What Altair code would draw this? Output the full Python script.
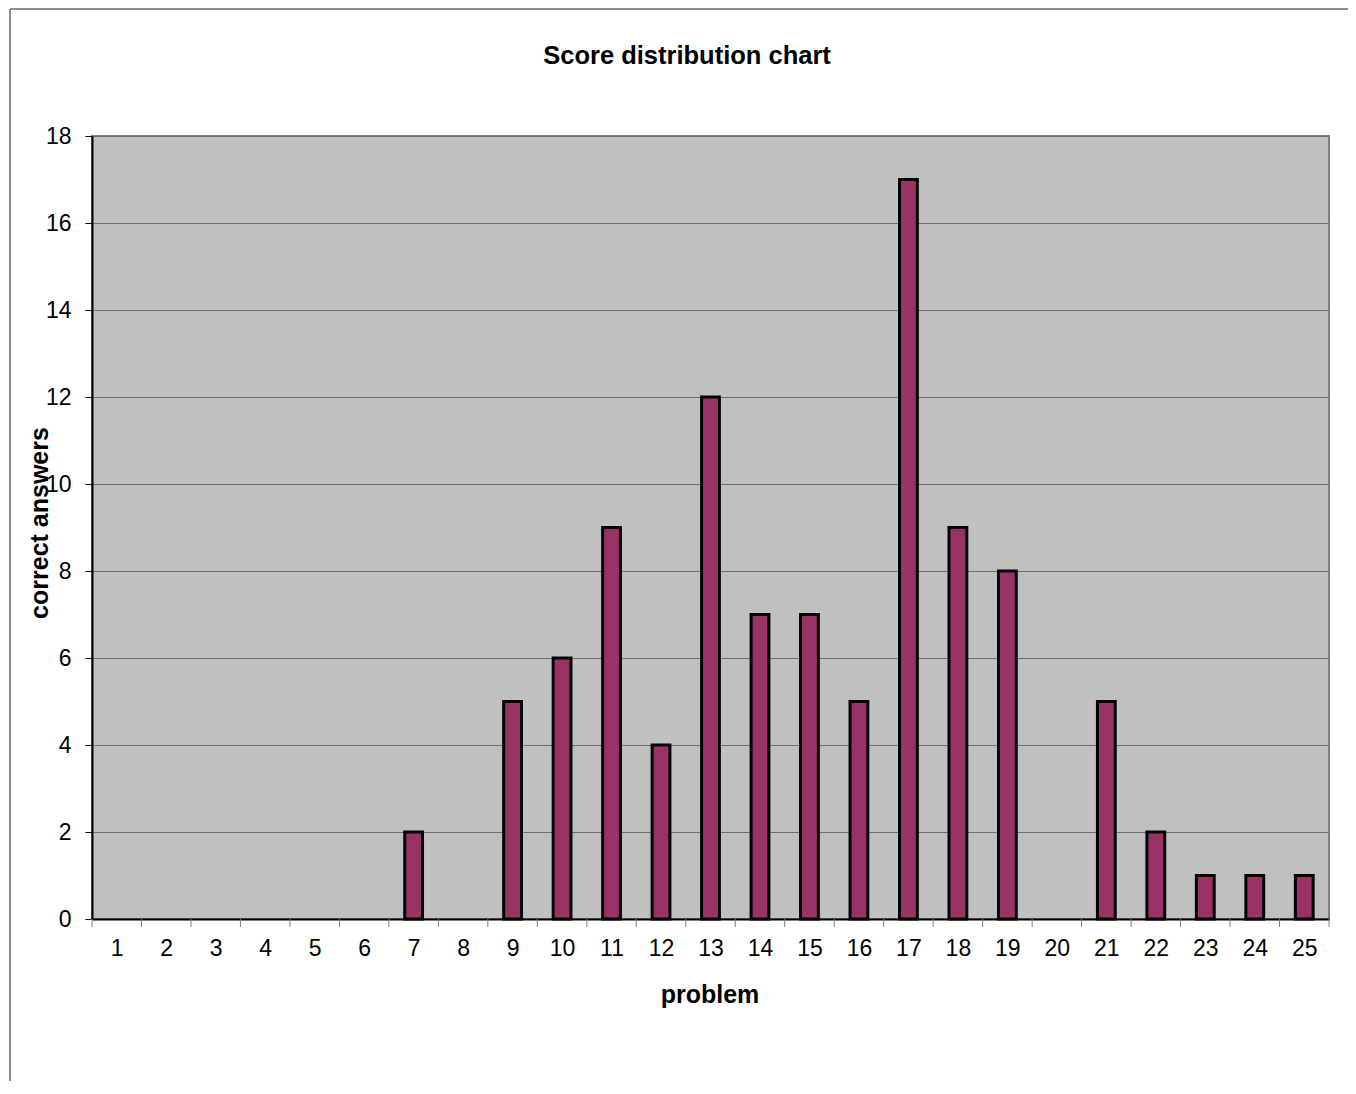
import altair as alt
import pandas as pd

# ---- data ----
problems = [1, 2, 3, 4, 5, 6, 7, 8, 9, 10, 11, 12, 13, 14, 15, 16, 17, 18, 19, 20, 21, 22, 23, 24, 25]
correct = [0, 0, 0, 0, 0, 0, 2, 0, 5, 6, 9, 4, 12, 7, 7, 5, 17, 9, 8, 0, 5, 2, 1, 1, 1]
y_ticks = [0, 2, 4, 6, 8, 10, 12, 14, 16, 18]
tick_edges = [0.5, 1.5, 2.5, 3.5, 4.5, 5.5, 6.5, 7.5, 8.5, 9.5, 10.5, 11.5, 12.5,
              13.5, 14.5, 15.5, 16.5, 17.5, 18.5, 19.5, 20.5, 21.5, 22.5, 23.5, 24.5, 25.5]
title_text = "Score distribution chart"
x_title = "problem"
y_title = "correct answers"

W, H = 1237, 783
FONT = "Liberation Sans"

df = pd.DataFrame({"problem": problems, "correct": correct})

xscale = alt.Scale(domain=[0.5, 25.5], nice=False, zero=False)
yscale = alt.Scale(domain=[0, 18], nice=False)

x_axis = alt.Axis(values=problems, format="d", ticks=False, grid=False,
                  domainColor="black", domainWidth=2, labelFontSize=23,
                  labelFont=FONT, labelColor="black", labelPadding=18,
                  labelFlush=False, labelOverlap=False, title=None)

bars = alt.Chart(df).transform_filter("datum.correct > 0").transform_calculate(
    x0="datum.problem - 0.18", x1="datum.problem + 0.18"
).mark_bar(color="#993366", stroke="black", strokeWidth=3).encode(
    x=alt.X("x0:Q", scale=xscale, axis=x_axis),
    x2="x1:Q",
    y=alt.Y("correct:Q", scale=yscale,
            axis=alt.Axis(values=y_ticks, grid=True, gridColor="#6e6e6e", gridWidth=1,
                          domainColor="black", domainWidth=2, tickColor="black",
                          tickSize=7, tickWidth=1, labelFontSize=23, labelFont=FONT,
                          labelColor="black", labelPadding=14, labelFlush=False,
                          title=None)),
    y2=alt.Y2(datum=0),
)

xticks = alt.Chart(pd.DataFrame({"edge": tick_edges})).mark_rule(
    color="#808080", strokeWidth=1
).encode(
    x=alt.X("edge:Q", scale=xscale, axis=x_axis),
    y=alt.value(H),
    y2=alt.value(H + 8),
)


def text_layer(s, x, y, size, angle=0):
    return alt.Chart(pd.DataFrame({"t": [s]})).mark_text(
        font=FONT, fontSize=size, fontWeight="bold", color="black",
        align="center", baseline="alphabetic", angle=angle
    ).encode(x=alt.value(x), y=alt.value(y), text="t:N")


title_layer = text_layer(title_text, 595, -72, 25.5)
xtitle_layer = text_layer(x_title, 618, 867, 25)
ytitle_layer = text_layer(y_title, -44, 387, 25, angle=270)

one = pd.DataFrame({"a": [0]})
border_left = alt.Chart(one).mark_rule(color="#8c8c8c", strokeWidth=2).encode(
    x=alt.value(-82), y=alt.value(-127), y2=alt.value(H + 170)
)
border_top = alt.Chart(one).mark_rule(color="#8c8c8c", strokeWidth=2).encode(
    x=alt.value(-82), x2=alt.value(W + 19), y=alt.value(-127)
)

chart = alt.layer(
    border_left, border_top, bars, xticks, title_layer, xtitle_layer, ytitle_layer
).properties(
    width=W, height=H,
    padding={"left": 84, "top": 128, "right": 19, "bottom": 162},
    autosize=alt.AutoSizeParams(type="none"),
).configure_view(
    fill="#C0C0C0", stroke="#808080", strokeWidth=2
)

chart.save("out.html", embed_options={"renderer": "svg", "actions": False})
